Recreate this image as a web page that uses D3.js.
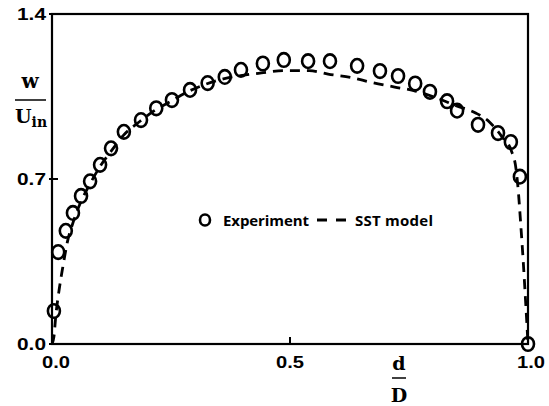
<!DOCTYPE html>
<html><head><meta charset="utf-8">
<script src="https://cdn.jsdelivr.net/npm/d3@7"></script>
<style>body{margin:0;background:#fff}svg{display:block}</style>
</head><body>
<script>
const expD = [0.004,0.013,0.029,0.044,0.061,0.080,0.101,0.124,0.151,0.187,0.219,0.252,0.290,0.327,0.363,0.397,0.443,0.487,0.538,0.584,0.641,0.689,0.727,0.763,0.794,0.830,0.851,0.895,0.937,0.964,0.983,1.0];
const expW = [0.14,0.39,0.48,0.556,0.628,0.69,0.76,0.83,0.90,0.95,1.00,1.035,1.078,1.107,1.133,1.163,1.19,1.205,1.20,1.20,1.18,1.158,1.137,1.105,1.07,1.03,0.99,0.93,0.895,0.857,0.71,0.0];
const modD = [0,0.004,0.008,0.015,0.023,0.032,0.045,0.06,0.08,0.10,0.125,0.15,0.185,0.215,0.25,0.285,0.32,0.36,0.40,0.44,0.49,0.54,0.58,0.63,0.67,0.72,0.76,0.80,0.85,0.89,0.92,0.945,0.965,0.975,0.98,0.985,0.99,0.995,1.0];
const modW = [0,0.03,0.12,0.23,0.33,0.43,0.52,0.60,0.68,0.75,0.82,0.885,0.945,0.99,1.03,1.07,1.10,1.125,1.14,1.15,1.16,1.16,1.145,1.13,1.11,1.09,1.075,1.05,1.01,0.98,0.94,0.88,0.82,0.74,0.64,0.50,0.35,0.18,0];
const xTicks = [0,0.5,1.0];
const yTicks = [0,0.7,1.4];

const W=549,H=406;
const svg=d3.select("body").append("svg").attr("width",W).attr("height",H);
const x=d3.scaleLinear().domain([0,1]).range([52,528]);
const y=d3.scaleLinear().domain([0,1.4]).range([344,14]);

// frame
svg.append("rect").attr("x",x(0)).attr("y",y(1.4)).attr("width",x(1)-x(0)).attr("height",y(0)-y(1.4))
  .attr("fill","none").attr("stroke","#000").attr("stroke-width",2.2);

// ticks
svg.selectAll(".xt").data(xTicks).join("line").attr("x1",d=>x(d)).attr("x2",d=>x(d))
  .attr("y1",y(0)).attr("y2",y(0)-7).attr("stroke","#000").attr("stroke-width",2);
svg.selectAll(".yt").data(yTicks).join("line").attr("x1",x(0)-3).attr("x2",x(0)+6)
  .attr("y1",d=>y(d)).attr("y2",d=>y(d)).attr("stroke","#000").attr("stroke-width",2);

const fmt=d3.format(".1f");
svg.selectAll(".xl").data(xTicks).join("text").attr("x",d=>x(d)+(d===0?4:(d===1?3:0))).attr("y",368)
  .attr("text-anchor","middle").attr("font-family","Liberation Sans, Arial, sans-serif")
  .attr("font-weight","bold").attr("font-size",17).attr("textLength",28).attr("lengthAdjust","spacingAndGlyphs").text(fmt);
svg.selectAll(".yl").data(yTicks).join("text").attr("x",46).attr("y",d=>y(d)+6)
  .attr("text-anchor","end").attr("font-family","Liberation Sans, Arial, sans-serif")
  .attr("font-weight","bold").attr("font-size",17).attr("textLength",29).attr("lengthAdjust","spacingAndGlyphs").text(fmt);

// model line
const line=d3.line().x((d,i)=>x(modD[i])).y((d,i)=>y(modW[i])).curve(d3.curveMonotoneX);
svg.append("path").attr("d",line(modD)).attr("fill","none").attr("stroke","#000")
  .attr("stroke-width",2.8).attr("stroke-dasharray","10,7");

// experiment circles
svg.selectAll(".pt").data(expD).join("ellipse").attr("cx",d=>x(d)).attr("cy",(d,i)=>y(expW[i]))
  .attr("rx",6).attr("ry",6.8).attr("fill","none").attr("stroke","#000").attr("stroke-width",2.6);

// legend
svg.append("ellipse").attr("cx",205).attr("cy",220).attr("rx",5).attr("ry",5.5)
  .attr("fill","none").attr("stroke","#000").attr("stroke-width",2.6);
svg.append("text").attr("x",223).attr("y",226).attr("font-family","Open Sans, sans-serif")
  .attr("font-weight","700").attr("font-size",15).attr("textLength",86).text("Experiment");
svg.append("line").attr("x1",317).attr("x2",351).attr("y1",220).attr("y2",220)
  .attr("stroke","#000").attr("stroke-width",3).attr("stroke-dasharray","10,9");
svg.append("text").attr("x",355).attr("y",226).attr("font-family","Open Sans, sans-serif")
  .attr("font-weight","700").attr("font-size",15).attr("textLength",78).text("SST model");

// axis labels (fractions)
const serif="DejaVu Serif, Liberation Serif, serif";
svg.append("text").attr("x",30).attr("y",88).attr("text-anchor","middle").attr("font-family",serif)
  .attr("font-weight","bold").attr("font-size",20).text("w");
svg.append("line").attr("x1",15).attr("x2",46).attr("y1",100).attr("y2",100).attr("stroke","#000").attr("stroke-width",1.5);
const u=svg.append("text").attr("x",15).attr("y",123).attr("font-family",serif).attr("font-weight","bold").attr("font-size",19);
u.append("tspan").text("U");
u.append("tspan").attr("font-size",14).attr("dy",4).text("in");

svg.append("text").attr("x",399).attr("y",370).attr("text-anchor","middle").attr("font-family",serif)
  .attr("font-weight","bold").attr("font-size",19).text("d");
svg.append("line").attr("x1",392).attr("x2",406).attr("y1",378).attr("y2",378).attr("stroke","#000").attr("stroke-width",1.5);
svg.append("text").attr("x",399).attr("y",402).attr("text-anchor","middle").attr("font-family",serif)
  .attr("font-weight","bold").attr("font-size",19).text("D");
</script>
</body></html>
